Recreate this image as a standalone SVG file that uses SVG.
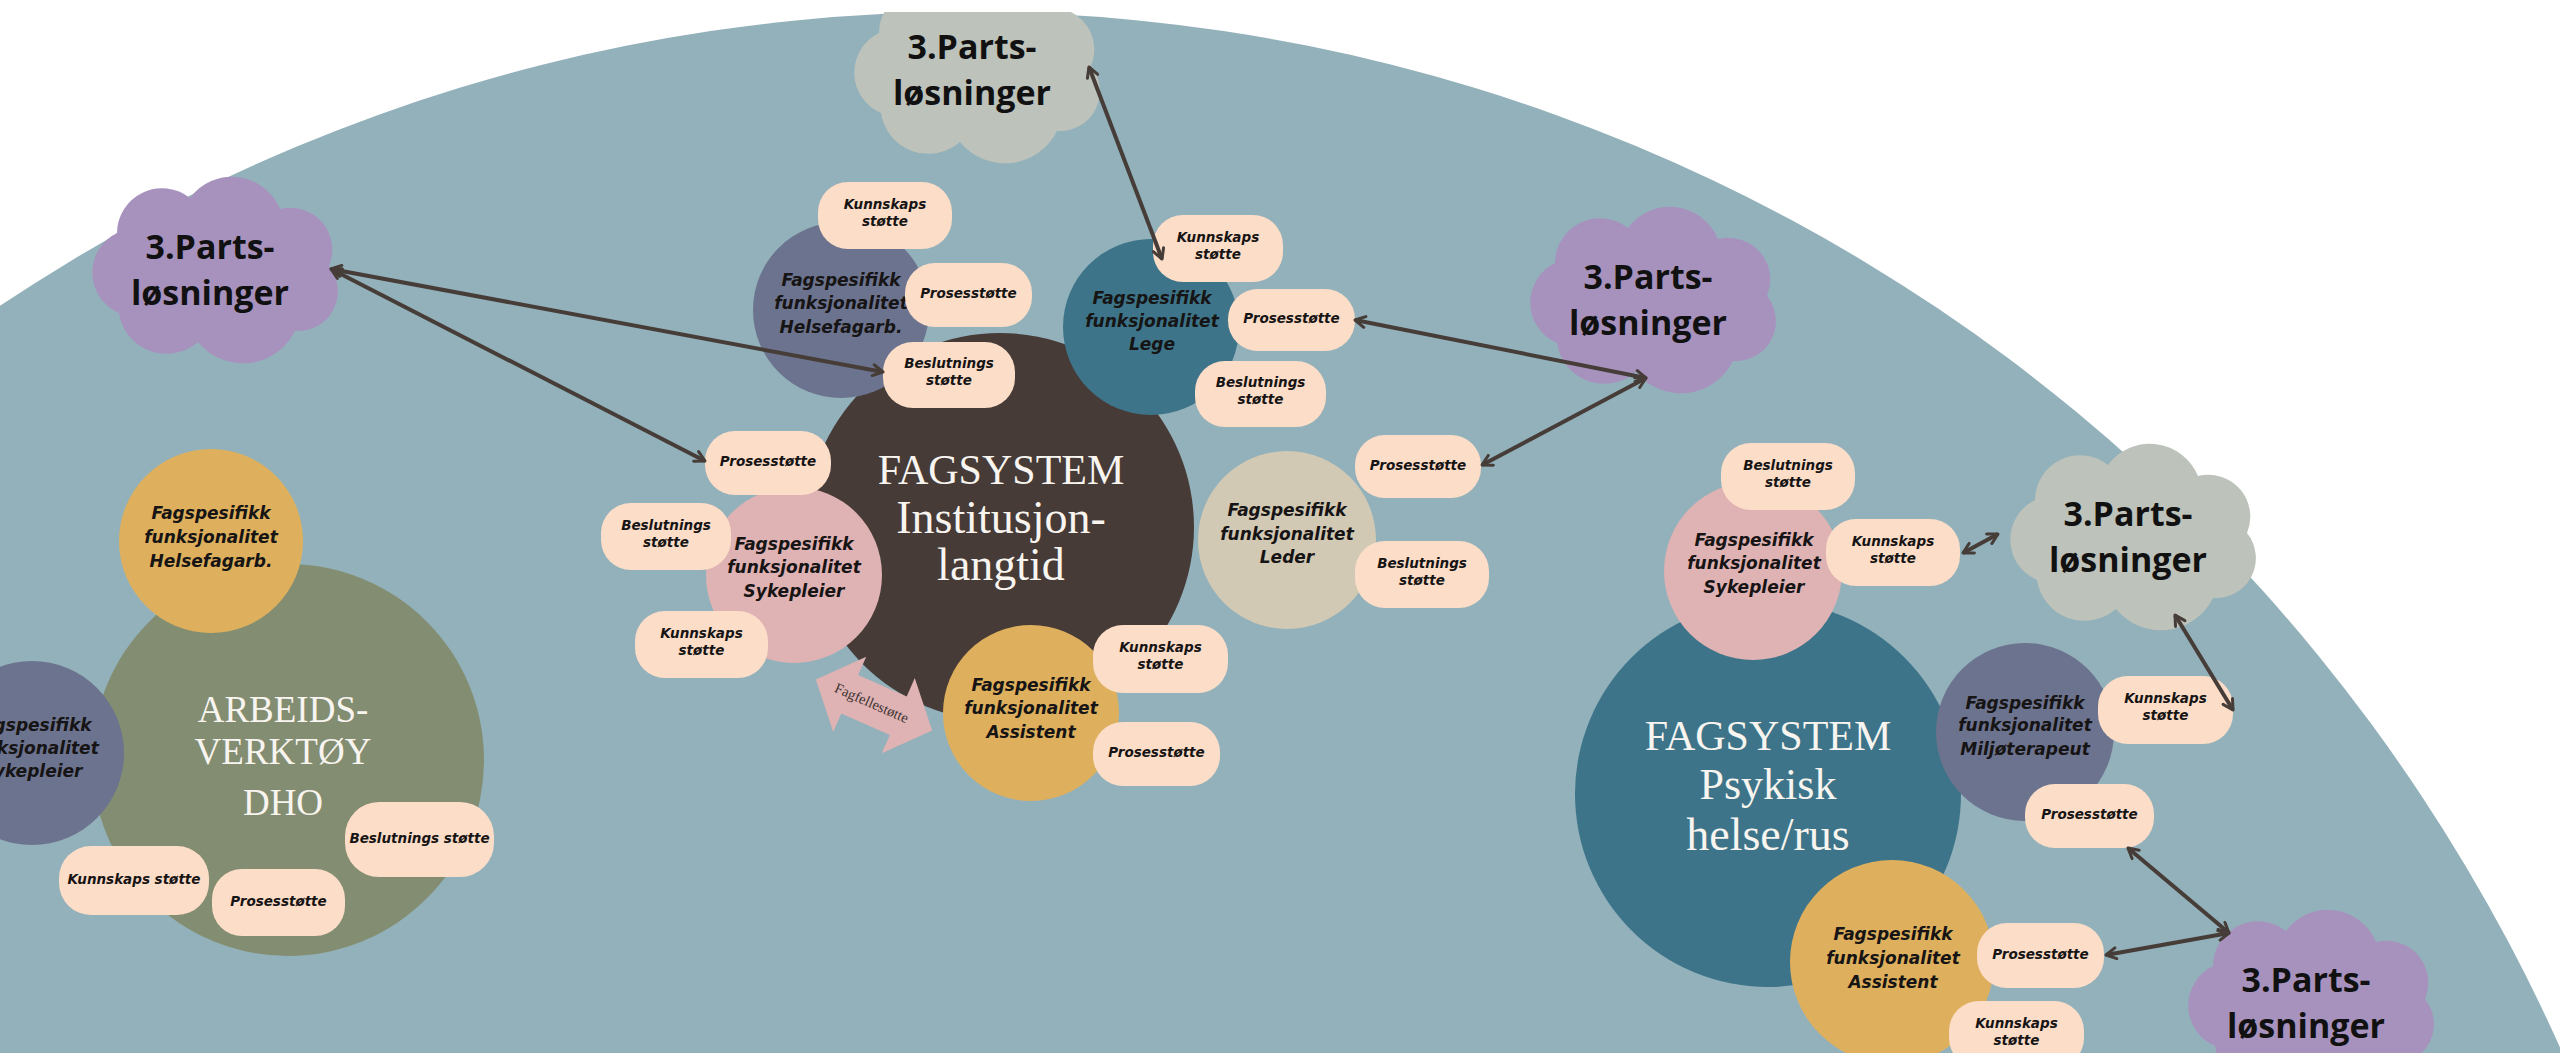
<svg xmlns="http://www.w3.org/2000/svg" xmlns:xlink="http://www.w3.org/1999/xlink" width="2560" height="1053" viewBox="0 0 2560 1053">
<style>
.lbl{font-family:"DejaVu Sans",sans-serif;font-weight:bold;font-style:italic;font-size:17px;fill:#161414;text-anchor:middle}
.pt{font-family:"DejaVu Sans",sans-serif;font-weight:bold;font-style:italic;font-size:13.5px;fill:#161414;text-anchor:middle}
.big{font-family:"Liberation Serif",serif;fill:#f8f4ef;text-anchor:middle}
.cl{font-family:"Open Sans",sans-serif;font-weight:bold;font-size:34px;fill:#111;text-anchor:middle}
.pill{fill:#fcddc8}
.con{fill:none;stroke:#463d38;stroke-width:4;marker-start:url(#ah);marker-end:url(#ah)}
</style>
<defs>
<clipPath id="page"><rect x="0" y="12" width="2560" height="1041"/></clipPath>
<marker id="ah" viewBox="0 0 14 14" refX="12" refY="7" markerWidth="14" markerHeight="14" markerUnits="userSpaceOnUse" orient="auto-start-reverse">
<path d="M2,1.5 L12,7 L2,12.5" fill="none" stroke="#463d38" stroke-width="3" stroke-linecap="round" stroke-linejoin="round"/>
</marker>
<path id="cloudShape" d="M39,131 A44,44 0 0 1 37,51 A45,45 0 0 1 110,16 A52,52 0 0 1 200,27 A42,42 0 0 1 249,84 A40,40 0 0 1 215,149 A58,58 0 0 1 118,160 A48,48 0 0 1 39,131 Z"/>
</defs>
<rect x="0" y="0" width="2560" height="1053" fill="#ffffff"/>
<g clip-path="url(#page)">
<ellipse id="background" cx="967" cy="1772" rx="1748" ry="1760" fill="#93b1ba"/>

<g id="inst"><circle cx="1000" cy="527" r="194" fill="#463b37"/>
<text class="big" x="1001" y="484" font-size="42">FAGSYSTEM</text>
<text class="big" x="1001" y="533" font-size="46">Institusjon-</text>
<text class="big" x="1001" y="580" font-size="46">langtid</text></g>

<g id="dho"><circle cx="288" cy="760" r="196" fill="#838d71"/>
<text class="big" x="283" y="722" font-size="37">ARBEIDS-</text>
<text class="big" x="283" y="764" font-size="37">VERKTØY</text>
<text class="big" x="283" y="815" font-size="37">DHO</text></g>

<g id="psyk"><circle cx="1768" cy="794" r="193" fill="#3d7489"/>
<text class="big" x="1768" y="750" font-size="42">FAGSYSTEM</text>
<text class="big" x="1768" y="799" font-size="44">Psykisk</text>
<text class="big" x="1768" y="850" font-size="46">helse/rus</text></g>

<g id="inst-helse"><circle cx="841" cy="310" r="88" fill="#6c738e"/>
<text class="lbl" x="841" y="286">Fagspesifikk</text><text class="lbl" x="841" y="309">funksjonalitet</text><text class="lbl" x="841" y="333">Helsefagarb.</text></g>
<g id="inst-lege"><circle cx="1151" cy="327" r="88" fill="#3d7489"/>
<text class="lbl" x="1152" y="304">Fagspesifikk</text><text class="lbl" x="1152" y="327">funksjonalitet</text><text class="lbl" x="1152" y="350">Lege</text></g>
<g id="inst-syk"><circle cx="794" cy="575" r="88" fill="#dfb2b3"/>
<text class="lbl" x="794" y="550">Fagspesifikk</text><text class="lbl" x="794" y="573">funksjonalitet</text><text class="lbl" x="794" y="597">Sykepleier</text></g>
<g id="inst-leder"><circle cx="1287" cy="540" r="89" fill="#d2c9b5"/>
<text class="lbl" x="1287" y="516">Fagspesifikk</text><text class="lbl" x="1287" y="540">funksjonalitet</text><text class="lbl" x="1287" y="563">Leder</text></g>
<g id="inst-assist"><circle cx="1031" cy="713" r="88" fill="#deb05d"/>
<text class="lbl" x="1031" y="691">Fagspesifikk</text><text class="lbl" x="1031" y="714">funksjonalitet</text><text class="lbl" x="1031" y="738">Assistent</text></g>
<g id="dho-helse"><circle cx="211" cy="541" r="92" fill="#deb05d"/>
<text class="lbl" x="211" y="519">Fagspesifikk</text><text class="lbl" x="211" y="543">funksjonalitet</text><text class="lbl" x="211" y="567">Helsefagarb.</text></g>
<g id="dho-syk"><circle cx="32" cy="753" r="92" fill="#6c738e"/>
<text class="lbl" x="32" y="731">Fagspesifikk</text><text class="lbl" x="32" y="754">funksjonalitet</text><text class="lbl" x="32" y="777">Sykepleier</text></g>
<g id="psyk-syk"><circle cx="1753" cy="571" r="89" fill="#dfb2b3"/>
<text class="lbl" x="1754" y="546">Fagspesifikk</text><text class="lbl" x="1754" y="569">funksjonalitet</text><text class="lbl" x="1754" y="593">Sykepleier</text></g>
<g id="psyk-miljo"><circle cx="2025" cy="732" r="89" fill="#6c738e"/>
<text class="lbl" x="2025" y="709">Fagspesifikk</text><text class="lbl" x="2025" y="731">funksjonalitet</text><text class="lbl" x="2025" y="755">Miljøterapeut</text></g>
<g id="psyk-assist"><circle cx="1892" cy="962" r="102" fill="#deb05d"/>
<text class="lbl" x="1893" y="940">Fagspesifikk</text><text class="lbl" x="1893" y="964">funksjonalitet</text><text class="lbl" x="1893" y="988">Assistent</text></g>

<g id="fagfelle" transform="translate(874,705) rotate(23.7)">
<path d="M-63.5,0 L-26.5,-41 L-26.5,-21 L26.5,-21 L26.5,-41 L63.5,0 L26.5,41 L26.5,21 L-26.5,21 L-26.5,41 Z" fill="#dfb2b3"/>
<text x="-3" y="4" font-family="Liberation Serif, serif" font-size="14.5" fill="#3b3232" text-anchor="middle">Fagfellestøtte</text>
</g>

<g id="p1"><rect class="pill" x="818" y="182" width="134" height="67" rx="30"/><text class="pt" x="885" y="208.5">Kunnskaps</text><text class="pt" x="885" y="225.5">støtte</text></g>
<g id="p2"><rect class="pill" x="905" y="263" width="127" height="64" rx="30"/><text class="pt" x="968.5" y="298">Prosesstøtte</text></g>
<g id="p3"><rect class="pill" x="883" y="342" width="132" height="66" rx="30"/><text class="pt" x="949" y="368">Beslutnings</text><text class="pt" x="949" y="385">støtte</text></g>
<g id="p4"><rect class="pill" x="705" y="431" width="126" height="64" rx="30"/><text class="pt" x="768" y="466">Prosesstøtte</text></g>
<g id="p5"><rect class="pill" x="601" y="503" width="130" height="67" rx="30"/><text class="pt" x="666" y="529.5">Beslutnings</text><text class="pt" x="666" y="546.5">støtte</text></g>
<g id="p6"><rect class="pill" x="635" y="611" width="133" height="67" rx="30"/><text class="pt" x="701.5" y="637.5">Kunnskaps</text><text class="pt" x="701.5" y="654.5">støtte</text></g>
<g id="p7"><rect class="pill" x="1153" y="215" width="130" height="67" rx="30"/><text class="pt" x="1218" y="241.5">Kunnskaps</text><text class="pt" x="1218" y="258.5">støtte</text></g>
<g id="p8"><rect class="pill" x="1228" y="289" width="127" height="62" rx="30"/><text class="pt" x="1291.5" y="323">Prosesstøtte</text></g>
<g id="p9"><rect class="pill" x="1195" y="361" width="131" height="66" rx="30"/><text class="pt" x="1260.5" y="387">Beslutnings</text><text class="pt" x="1260.5" y="404">støtte</text></g>
<g id="p10"><rect class="pill" x="1355" y="435" width="126" height="63" rx="30"/><text class="pt" x="1418" y="469.5">Prosesstøtte</text></g>
<g id="p11"><rect class="pill" x="1355" y="541" width="134" height="67" rx="30"/><text class="pt" x="1422" y="567.5">Beslutnings</text><text class="pt" x="1422" y="584.5">støtte</text></g>
<g id="p12"><rect class="pill" x="1093" y="625" width="135" height="68" rx="30"/><text class="pt" x="1160.5" y="652">Kunnskaps</text><text class="pt" x="1160.5" y="669">støtte</text></g>
<g id="p13"><rect class="pill" x="1093" y="722" width="127" height="64" rx="30"/><text class="pt" x="1156.5" y="757">Prosesstøtte</text></g>
<g id="p14"><rect class="pill" x="345" y="802" width="149" height="75" rx="34"/><text class="pt" x="419.5" y="842.5">Beslutnings støtte</text></g>
<g id="p15"><rect class="pill" x="59" y="846" width="150" height="69" rx="32"/><text class="pt" x="134" y="883.5">Kunnskaps støtte</text></g>
<g id="p16"><rect class="pill" x="212" y="869" width="133" height="67" rx="30"/><text class="pt" x="278.5" y="905.5">Prosesstøtte</text></g>
<g id="p17"><rect class="pill" x="1721" y="443" width="134" height="67" rx="30"/><text class="pt" x="1788" y="469.5">Beslutnings</text><text class="pt" x="1788" y="486.5">støtte</text></g>
<g id="p18"><rect class="pill" x="1826" y="519" width="134" height="67" rx="30"/><text class="pt" x="1893" y="545.5">Kunnskaps</text><text class="pt" x="1893" y="562.5">støtte</text></g>
<g id="p19"><rect class="pill" x="2098" y="676" width="135" height="68" rx="30"/><text class="pt" x="2165.5" y="703">Kunnskaps</text><text class="pt" x="2165.5" y="720">støtte</text></g>
<g id="p20"><rect class="pill" x="2025" y="784" width="129" height="64" rx="30"/><text class="pt" x="2089.5" y="819">Prosesstøtte</text></g>
<g id="p21"><rect class="pill" x="1977" y="923" width="127" height="65" rx="30"/><text class="pt" x="2040.5" y="958.5">Prosesstøtte</text></g>
<g id="p22"><rect class="pill" x="1949" y="1001" width="135" height="67" rx="30"/><text class="pt" x="2016.5" y="1027.5">Kunnskaps</text><text class="pt" x="2016.5" y="1044.5">støtte</text></g>

<g id="cloud1"><use xlink:href="#cloudShape" href="#cloudShape" x="80" y="182" fill="#a792be"/><text class="cl" x="210" y="259">3.Parts-</text><text class="cl" x="210" y="305">løsninger</text></g>
<g id="cloud2"><use xlink:href="#cloudShape" href="#cloudShape" x="842" y="-18" fill="#bdc2ba"/><text class="cl" x="972" y="59">3.Parts-</text><text class="cl" x="972" y="105">løsninger</text></g>
<g id="cloud3"><use xlink:href="#cloudShape" href="#cloudShape" x="1518" y="212" fill="#a792be"/><text class="cl" x="1648" y="289">3.Parts-</text><text class="cl" x="1648" y="335">løsninger</text></g>
<g id="cloud4"><use xlink:href="#cloudShape" href="#cloudShape" x="1998" y="449" fill="#bdc2ba"/><text class="cl" x="2128" y="526">3.Parts-</text><text class="cl" x="2128" y="572">løsninger</text></g>
<g id="cloud5"><use xlink:href="#cloudShape" href="#cloudShape" x="2176" y="915" fill="#a792be"/><text class="cl" x="2306" y="992">3.Parts-</text><text class="cl" x="2306" y="1038">løsninger</text></g>

<g id="connectors">
<path class="con" d="M331,269 L883,372"/>
<path class="con" d="M331,269 L705,461"/>
<path class="con" d="M1089,67 L1162,259"/>
<path class="con" d="M1355,320 L1646,378"/>
<path class="con" d="M1482,465 L1646,378"/>
<path class="con" d="M1963,553 L1998,534"/>
<path class="con" d="M2175,615 L2233,710"/>
<path class="con" d="M2128,848 L2229,933"/>
<path class="con" d="M2106,955 L2229,933"/>
</g>
</g>
</svg>
